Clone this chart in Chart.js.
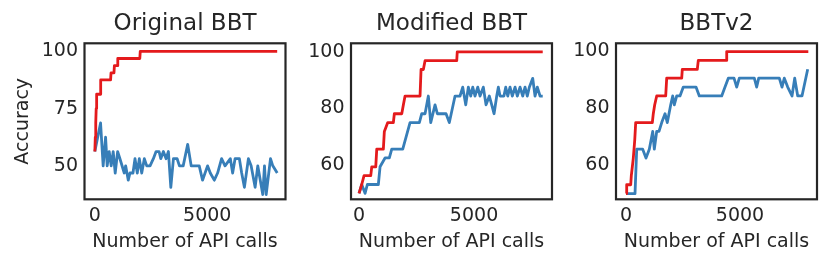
<!DOCTYPE html>
<html>
<head>
<meta charset="utf-8">
<script src="https://cdn.jsdelivr.net/npm/chart.js@4.4.0/dist/chart.umd.min.js"></script>
<style>
  html, body { margin: 0; padding: 0; background: #fff; overflow: hidden; }
  body { width: 831px; height: 266px; position: relative; }
  canvas { position: absolute; top: 0; }
</style>
</head>
<body>
<canvas id="c1" width="290" height="266" style="left:0px"></canvas>
<canvas id="c2" width="257" height="266" style="left:300px"></canvas>
<canvas id="c3" width="266" height="266" style="left:565px"></canvas>
<script>
// [API calls, accuracy]
var origBest = [[0,56.25],[20,62.5],[40,68.75],[60,75],[80,81.25],[250,81.25],[260,87.5],[700,87.5],[720,90.625],[850,90.625],[870,93.75],[1000,93.75],[1020,96.875],[2000,96.875],[2020,100],[8110,100]];
var origAcc = [[0,56.25],[254,68.75],[370,50],[478,62.5],[549,50],[638,56.25],[728,50],[817,56.25],[906,46.875],[1013,56.25],[1116,53.125],[1308,46.875],[1370,50],[1487,43.75],[1562,46.875],[1696,46.875],[1786,53.125],[1888,46.875],[1978,53.125],[2085,46.875],[2201,53.125],[2308,50],[2455,50],[2603,53.125],[2723,56.25],[2857,56.25],[2933,53.125],[3049,56.25],[3170,53.125],[3272,56.25],[3379,40.625],[3496,53.125],[3660,53.125],[3763,50],[3929,50],[4130,59.375],[4286,50],[4420,50],[4643,50],[4790,43.75],[5013,50],[5134,46.875],[5313,43.75],[5460,46.875],[5638,53.125],[5790,50],[6027,53.125],[6129,46.875],[6237,53.125],[6429,53.125],[6531,46.875],[6652,40.625],[6830,53.125],[6951,50],[7129,40.625],[7246,50],[7469,37.5],[7545,50],[7621,37.5],[7813,53.125],[7915,50],[8112,46.875]];

var modBest = [[0,50],[117,53.125],[217,56.25],[509,56.25],[552,59.375],[726,59.375],[770,65.625],[1057,65.625],[1100,71.875],[1248,75],[1491,75],[1535,78.125],[1857,78.125],[1926,81.25],[2000,84.375],[2652,84.375],[2696,93.75],[2796,93.75],[2870,96.875],[4248,96.875],[4270,100],[7987,100]];
var modAcc = [[0,50],[117,53.125],[261,50],[361,53.125],[839,53.125],[913,59.375],[1130,62.5],[1317,62.5],[1422,65.625],[1900,65.625],[2217,75],[2622,75],[2726,78.125],[2870,78.125],[3013,84.375],[3117,75],[3304,81.25],[3404,78.125],[3783,78.125],[3926,75],[4174,84.375],[4391,84.375],[4509,87.5],[4639,81.25],[4752,87.5],[4857,84.375],[4943,87.5],[5043,84.375],[5161,87.5],[5261,84.375],[5404,87.5],[5522,81.25],[5665,84.375],[5770,81.25],[5870,78.125],[5987,84.375],[6057,87.5],[6130,84.375],[6300,84.375],[6378,87.5],[6465,84.375],[6565,87.5],[6665,84.375],[6783,87.5],[6883,84.375],[7000,87.5],[7117,84.375],[7217,87.5],[7317,84.375],[7404,87.5],[7552,90.625],[7652,84.375],[7752,87.5],[7870,84.375],[7987,84.375]];

var v2Best = [[0,50],[30,53.125],[206,53.125],[232,56.25],[276,59.375],[320,62.5],[382,68.75],[425,75],[1154,75],[1197,78.125],[1259,81.25],[1346,84.375],[1741,84.375],[1785,90.625],[2443,90.625],[2469,93.75],[3127,93.75],[3171,96.875],[4395,96.875],[4417,100],[7996,100]];
var v2Acc = [[0,50],[395,50],[469,65.625],[732,65.625],[877,62.5],[1022,65.625],[1171,71.875],[1241,65.625],[1346,71.875],[1447,71.875],[1566,75],[1711,78.125],[1811,75],[1961,81.25],[2048,84.375],[2118,81.25],[2224,84.375],[2368,84.375],[2513,87.5],[3070,87.5],[3215,84.375],[4197,84.375],[4342,87.5],[4487,90.625],[4737,90.625],[4855,87.5],[4969,90.625],[5627,90.625],[5732,87.5],[5820,90.625],[6724,90.625],[6842,87.5],[6943,90.625],[7092,87.5],[7281,84.375],[7399,90.625],[7531,84.375],[7719,84.375],[7969,93.75]];

var xTicks = [0, 5000];
var yTicksOrig = [50, 75, 100];
var yTicksOther = [60, 80, 100];

var textColor = '#262626';
var fontFamily = '"DejaVu Sans", sans-serif';

// box around the plot area, like matplotlib spines
var frame = {
    id: 'frame',
    afterDatasetsDraw: function(chart) {
        var ctx = chart.ctx, a = chart.chartArea;
        ctx.save();
        ctx.strokeStyle = '#262626';
        ctx.lineWidth = 2.2;
        ctx.strokeRect(a.left, a.top, a.right - a.left, a.bottom - a.top);
        ctx.restore();
    }
};

function toPoints(arr) {
    return arr.map(function(p) { return {x: p[0], y: p[1]}; });
}

function makePanel(id, title, best, acc, xr, yr, yTicks, yWidth, padRight, yLabel) {
    new Chart(document.getElementById(id), {
        type: 'line',
        data: {
            datasets: [{
                data: toPoints(best),
                borderColor: '#e41a1c',
                borderWidth: 2.8,
                pointRadius: 0,
                tension: 0,
                borderJoinStyle: 'round'
            }, {
                data: toPoints(acc),
                borderColor: '#377eb8',
                borderWidth: 2.8,
                pointRadius: 0,
                tension: 0,
                borderJoinStyle: 'round'
            }]
        },
        options: {
            responsive: false,
            animation: false,
            layout: { padding: { left: 0, right: padRight, top: 0, bottom: 0 } },
            plugins: {
                legend: { display: false },
                tooltip: { enabled: false },
                title: {
                    display: true,
                    fullSize: false,   // centre over the plot area, not the canvas
                    text: title,
                    color: textColor,
                    font: { family: fontFamily, size: 23, weight: 'normal' },
                    padding: { top: 10, bottom: 5.7 }
                }
            },
            scales: {
                x: {
                    type: 'linear',
                    min: xr[0],
                    max: xr[1],
                    afterBuildTicks: function(s) { s.ticks = xTicks.map(function(v) { return {value: v}; }); },
                    afterFit: function(s) { s.height = 66.7; },
                    grid: { display: false, drawTicks: false },
                    border: { display: false },
                    ticks: {
                        color: textColor,
                        font: { family: fontFamily, size: 19 },
                        padding: 5,
                        maxRotation: 0,
                        autoSkip: false,
                        callback: function(v) { return String(v); }
                    },
                    title: {
                        display: true,
                        text: 'Number of API calls',
                        color: textColor,
                        font: { family: fontFamily, size: 19 },
                        padding: { top: 0, bottom: 13 }
                    }
                },
                y: {
                    min: yr[0],
                    max: yr[1],
                    afterBuildTicks: function(s) { s.ticks = yTicks.map(function(v) { return {value: v}; }); },
                    afterFit: function(s) { s.width = yWidth; },
                    grid: { display: false, drawTicks: false },
                    border: { display: false },
                    ticks: {
                        color: textColor,
                        font: { family: fontFamily, size: 19 },
                        padding: 6.5,
                        callback: function(v) { return String(v); }
                    },
                    title: {
                        display: !!yLabel,
                        text: yLabel || '',
                        color: textColor,
                        font: { family: fontFamily, size: 19 },
                        padding: { top: 12, bottom: 0 }
                    }
                }
            }
        },
        plugins: [frame]
    });
}

makePanel('c1', 'Original BBT', origBest, origAcc, [-460, 8480], [35.4, 103.5], yTicksOrig, 84.5, 4.5, 'Accuracy');
makePanel('c2', 'Modified BBT', modBest, modAcc, [-350, 8390], [47.9, 103.0], yTicksOther, 51, 5, '');
makePanel('c3', 'BBTv2', v2Best, v2Acc, [-439, 8377], [48.0, 102.9], yTicksOther, 51, 14, '');
</script>
</body>
</html>
